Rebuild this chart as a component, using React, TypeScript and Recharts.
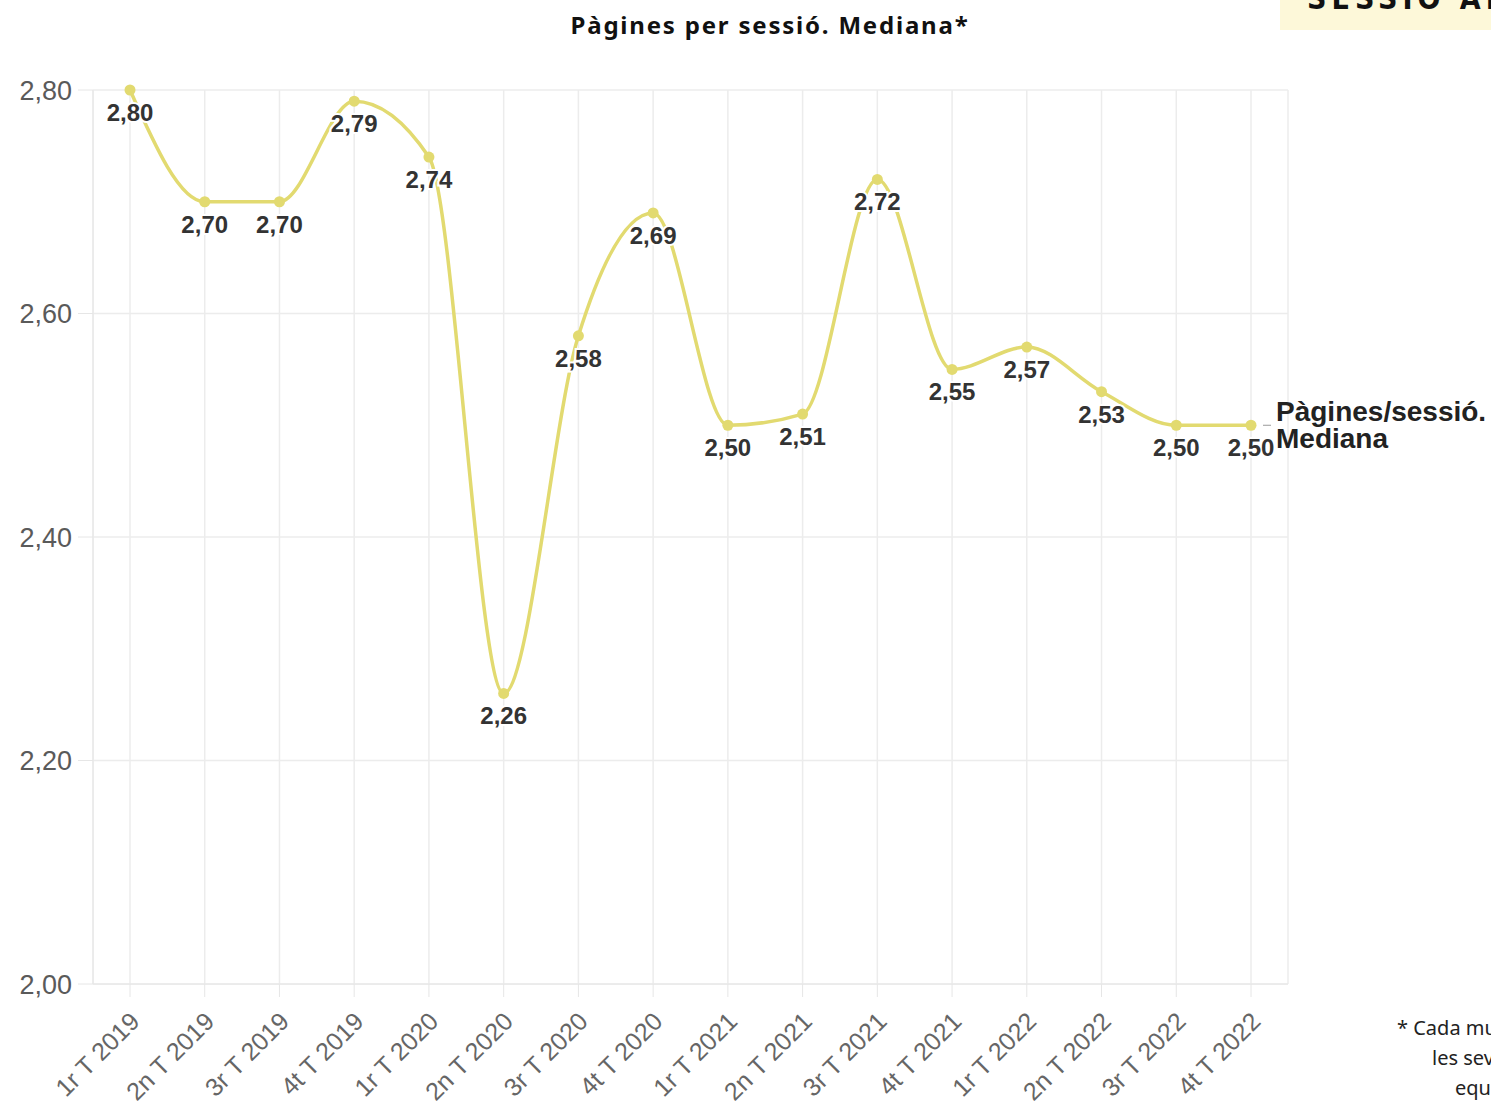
import React from 'react';
import { CartesianGrid, LabelList, Line, LineChart, XAxis, YAxis } from 'recharts';

const quarters = [
  '1r T 2019', '2n T 2019', '3r T 2019', '4t T 2019',
  '1r T 2020', '2n T 2020', '3r T 2020', '4t T 2020',
  '1r T 2021', '2n T 2021', '3r T 2021', '4t T 2021',
  '1r T 2022', '2n T 2022', '3r T 2022', '4t T 2022',
];
const pagesPerSession = [2.8, 2.7, 2.7, 2.79, 2.74, 2.26, 2.58, 2.69, 2.5, 2.51, 2.72, 2.55, 2.57, 2.53, 2.5, 2.5];
const yTicks = [2.0, 2.2, 2.4, 2.6, 2.8];
const seriesName = ['Pàgines/sessió.', 'Mediana'];
const footnote = ['* Cada municipi es compara amb', 'les seves pròpies dades', 'equivalents'];

const data = quarters.map((q, i) => ({ q, v: pagesPerSession[i] }));

const LINE = '#e2da70';
const fmt = (v: number) => v.toFixed(2).replace('.', ',');

function XTick(props: any) {
  const { x, y, payload } = props;
  return (
    <g transform={`translate(${x + 11},${y + 24})`}>
      <text transform="rotate(-45)" textAnchor="end" fontSize={25} fill="#666" fontFamily="Liberation Sans, Arial">
        {payload.value}
      </text>
    </g>
  );
}

function PointLabel(props: any) {
  const { x, y, value, index } = props;
  const last = index === pagesPerSession.length - 1;
  return (
    <g>
      <text
        x={x}
        y={y + 31}
        textAnchor="middle"
        fontSize={24}
        fontWeight="bold"
        fill="#333"
        stroke="#fff"
        strokeWidth={4}
        paintOrder="stroke"
        fontFamily="Liberation Sans, Arial"
      >
        {fmt(value)}
      </text>
      {last && (
        <g>
          <line x1={x + 12} y1={y} x2={x + 20} y2={y} stroke="#999" strokeWidth={1} />
          <text x={x + 25} y={y - 4} fontSize={28} fontWeight="bold" fill="#222" fontFamily="Liberation Sans, Arial">
            {seriesName[0]}
          </text>
          <text x={x + 25} y={y + 23} fontSize={28} fontWeight="bold" fill="#222" fontFamily="Liberation Sans, Arial">
            {seriesName[1]}
          </text>
        </g>
      )}
    </g>
  );
}

export default function App() {
  return (
    <div style={{ position: 'absolute', left: 0, top: 0, width: 1491, height: 1107, overflow: 'hidden', background: '#fff' }}>
      <div
        style={{
          position: 'absolute', left: 0, top: 8, width: 1540, textAlign: 'center',
          fontFamily: 'Noto Sans, Open Sans, sans-serif', fontWeight: 700, fontSize: 24, letterSpacing: 1.8, color: '#111',
        }}
      >
        Pàgines per sessió. Mediana*
      </div>
      <div style={{ position: 'absolute', left: 1280, top: 0, width: 211, height: 30, background: '#fdf8d9', overflow: 'hidden' }}>
        <div
          style={{
            position: 'absolute', left: 27, top: -16, whiteSpace: 'nowrap', fontFamily: 'DejaVu Sans Condensed, DejaVu Sans, sans-serif',
            fontWeight: 700, fontSize: 30, letterSpacing: 5, color: '#111', lineHeight: '30px',
          }}
        >
          SESSIÓ AL
        </div>
      </div>
      <div style={{ position: 'absolute', left: 1397, top: 1013, fontFamily: 'Noto Sans, Open Sans, sans-serif', fontSize: 20, color: '#222', whiteSpace: 'nowrap', lineHeight: '30px' }}>
        <div>{footnote[0]}</div>
        <div style={{ marginLeft: 35 }}>{footnote[1]}</div>
        <div style={{ marginLeft: 58 }}>{footnote[2]}</div>
      </div>
      <LineChart width={1491} height={1107} data={data} margin={{ top: 90, right: 203, bottom: 0, left: 0 }} style={{ position: 'absolute', left: 0, top: 0 }}>
        <CartesianGrid stroke="#ececec" strokeWidth={1.5} />
        <XAxis
          dataKey="q"
          interval={0}
          padding={{ left: 37, right: 37 }}
          height={123}
          tick={<XTick />}
          tickSize={13}
          tickLine={{ stroke: '#e6e6e6' }}
          axisLine={{ stroke: '#e6e6e6' }}
        />
        <YAxis
          domain={[2, 2.8]}
          ticks={yTicks}
          width={93}
          tickFormatter={fmt}
          tickSize={15}
          tickMargin={6}
          tick={{ fontSize: 27, fill: '#5a5a5a', fontFamily: 'Liberation Sans, Arial' }}
          tickLine={{ stroke: '#e6e6e6' }}
          axisLine={{ stroke: '#e6e6e6' }}
        />
        <Line
          type="monotone"
          dataKey="v"
          stroke={LINE}
          strokeWidth={3.5}
          dot={{ r: 5.5, fill: LINE, stroke: 'none' }}
          isAnimationActive={false}
        >
          <LabelList dataKey="v" content={<PointLabel />} />
        </Line>
      </LineChart>
    </div>
  );
}
